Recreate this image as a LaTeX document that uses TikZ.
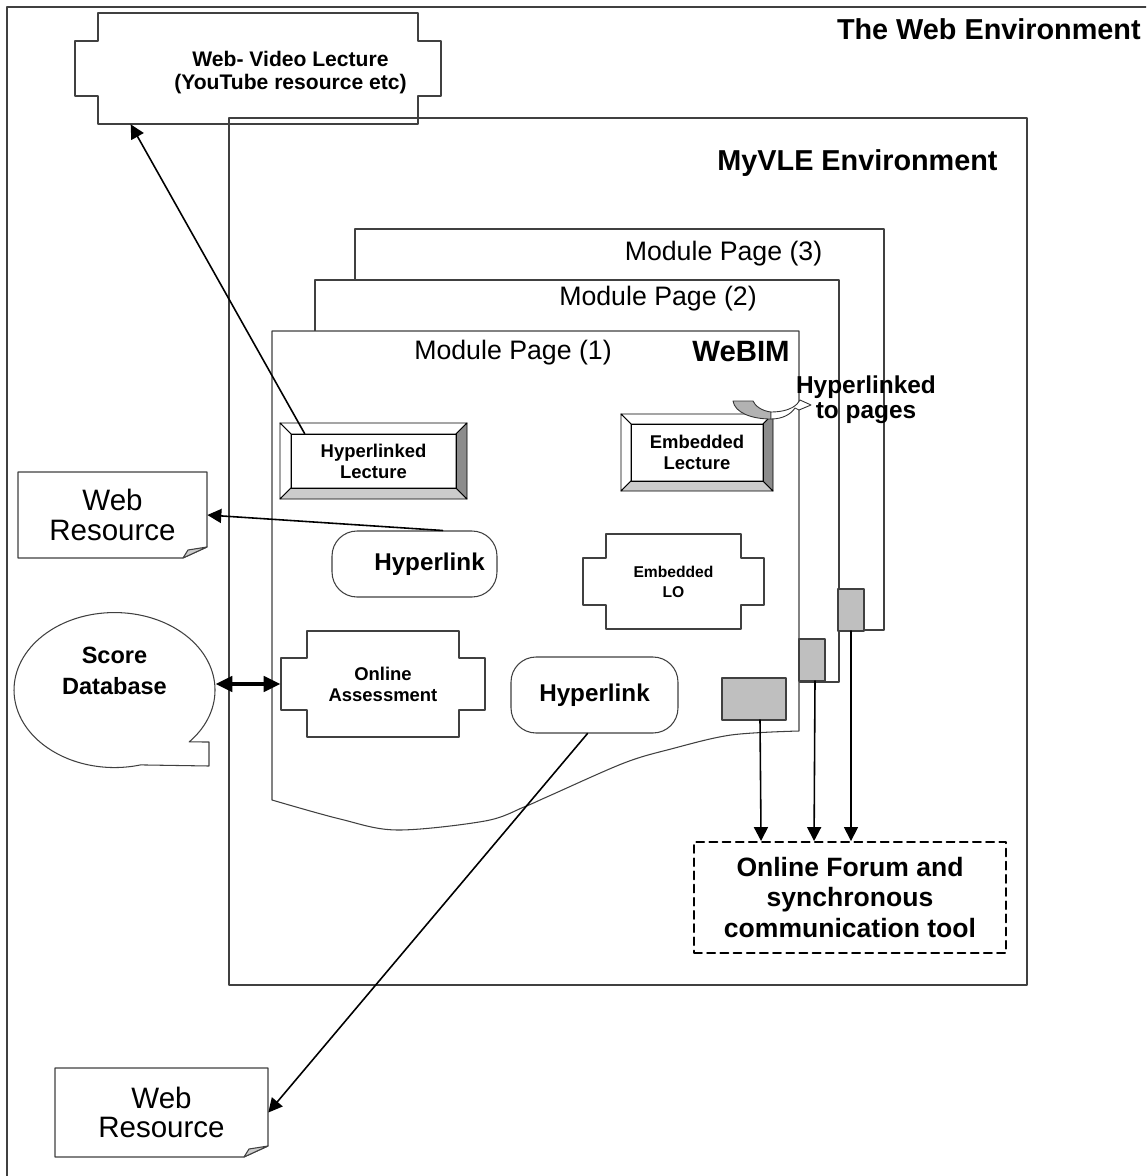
\documentclass[tikz,border=0pt]{standalone}
\usepackage{fontspec}
\setmainfont{Liberation Sans}
\usetikzlibrary{arrows.meta}
\usetikzlibrary{calc}

\newcommand\txtsize[2]{\fontsize{#1}{#2}\selectfont}
% raised button: x1 y1 x2 y2 (px), bevel depth
\newcommand\bevelbox[5]{%
  \filldraw[fill=white, draw=black, line width=0.5pt]
    (#1,#2) -- (#3,#2) -- (#3-#5,#2+#5) -- (#1+#5,#2+#5) -- cycle;
  \filldraw[fill=white, draw=black, line width=0.5pt]
    (#1,#2) -- (#1+#5,#2+#5) -- (#1+#5,#4-#5) -- (#1,#4) -- cycle;
  \filldraw[fill=black!20, draw=black, line width=0.5pt]
    (#1,#4) -- (#1+#5,#4-#5) -- (#3-#5,#4-#5) -- (#3,#4) -- cycle;
  \filldraw[fill=black!45, draw=black, line width=0.5pt]
    (#3,#2) -- (#3,#4) -- (#3-#5,#4-#5) -- (#3-#5,#2+#5) -- cycle;
  \draw[black, line width=0.5pt] (#1+#5,#2+#5) rectangle (#3-#5,#4-#5);}
% box with side wings: body x1 y1 x2 y2, wing out, wing inset
\newcommand\notchbox[6]{%
  \draw[envline, fill=white] (#1,#2) -- (#3,#2) -- (#3,#2+#6) -- (#3+#5,#2+#6)
    -- (#3+#5,#4-#6) -- (#3,#4-#6) -- (#3,#4) -- (#1,#4) -- (#1,#4-#6)
    -- (#1-#5,#4-#6) -- (#1-#5,#2+#6) -- (#1,#2+#6) -- cycle;}
% sheet with turned-up corner
\newcommand\notepaper[4]{%
  \draw[envline, fill=white] (#1,#2) -- (#3,#2) -- (#3,#4-11) -- (#3-24,#4)
    -- (#1,#4) -- cycle;
  \filldraw[envline, fill=black!20] (#3,#4-11) -- (#3-24,#4) -- (#3-19,#4-8) -- cycle;}

\tikzset{
  envline/.style={draw=black!75, line width=0.6pt},
  pagebox/.style={envline, fill=white},
  titletext/.style={font=\bfseries\txtsize{16.4}{19.7}, inner sep=0pt},
  pagetext/.style={font=\txtsize{15.2}{18}, inner sep=0pt},
  btntext/.style={font=\bfseries\txtsize{10.5}{12}, align=center, inner sep=0pt},
  notetext/.style={font=\txtsize{16.8}{16.6}, align=center, inner sep=0pt},
  linkbox/.style={envline, fill=white, rounded corners=0.5cm, inner sep=0pt,
    font=\bfseries\txtsize{13.8}{16}},
  grayport/.style={draw=black!75, fill=black!25, line width=0.6pt, inner sep=0pt,
    outer sep=0pt},
  forumbox/.style={draw=black, line width=1.1pt, dash pattern=on 4.5pt off 3pt,
    minimum width=6.24cm, minimum height=2.22cm, align=center, inner sep=0pt,
    font=\bfseries\txtsize{15.1}{17.4}},
  linkarrow/.style={line width=0.9pt, -{Triangle[length=0.28cm, width=0.28cm]}},
  dblarrow/.style={line width=2.8pt,
    {Triangle[length=0.34cm, width=0.3cm]}-{Triangle[length=0.34cm, width=0.3cm]}}
}

\begin{document}
\begin{tikzpicture}[x=0.02cm, y=-0.02cm, line cap=round, line join=round]
  \useasboundingbox (0,0) rectangle (1146,1176);
  \clip (0,0) rectangle (1146,1176);

  % the web environment
  \draw[envline] (7,7) rectangle (1160,1190);
  \node[titletext, anchor=east] (webenv) at (1141,29) {The Web Environment};

  % video lecture out on the web
  \notchbox{98}{13}{418}{124}{23}{28}
  \node[font=\bfseries\txtsize{12}{13.2}, align=center, inner sep=0pt,
        minimum width=6.4cm, minimum height=2.22cm] (vid) at (258,72.5)
        {\hspace*{1.3cm}Web- Video Lecture\\\hspace*{1.3cm}(YouTube resource etc)};

  % MyVLE
  \draw[envline] (229,118) rectangle (1027,985);
  \node[titletext] (myvle) at (857.5,163) {MyVLE Environment};

  % module pages, back to front
  \draw[pagebox] (355,229) rectangle (884,630);
  \node[pagetext] (mp3) at (723.5,254) {Module Page (3)};
  \draw[pagebox] (315,280) rectangle (839,682);
  \node[pagetext] (mp2) at (658,299) {Module Page (2)};
  \draw[pagebox] (799,731) -- (799,331) -- (272,331) -- (272,800)
    -- plot[smooth, tension=0.55] coordinates {(272,800) (340,819) (397,830)
       (485,821) (524,807) (549,796) (624,763) (671,749) (731,735) (799,731)}
    -- cycle;
  \node[pagetext] (mp1) at (513,353) {Module Page (1)};
  \node[font=\bfseries\txtsize{16.7}{20}, inner sep=0pt] (webim) at (741,352) {WeBIM};

  % lectures
  \bevelbox{280}{423}{467}{499}{11}
  \node[btntext, minimum width=3.3cm, minimum height=1.08cm] (hlect)
    at (373.5,461) {Hyperlinked\\Lecture};
  \bevelbox{621}{414}{773}{491}{10}
  \node[btntext, minimum width=2.64cm, minimum height=1.14cm] (elect)
    at (697,452.5) {Embedded\\Lecture};

  % curved arrow to the other pages
  \filldraw[fill=black!30, draw=black!80, line width=0.5pt] (733,401)
    .. controls (735,413) and (752,419) .. (771,419) -- (771,412)
    .. controls (762,411) and (755,406) .. (753,401) -- cycle;
  \filldraw[fill=white, draw=black!80, line width=0.5pt] (771,419)
    .. controls (783,419) and (791,414) .. (795,408) -- (799,410) -- (811,405)
    -- (800,400) -- (797,404) .. controls (792,409) and (783,412) .. (771,412)
    -- cycle;
  \node[font=\bfseries\txtsize{13.9}{14.2}, align=center, inner sep=0pt] (hlpages)
    at (866,400) {Hyperlinked\\to pages};

  % links and embedded objects
  \node[linkbox, minimum width=3.3cm, minimum height=1.32cm] (hyp1) at (414.5,564)
    {\hspace*{0.6cm}Hyperlink};
  \notchbox{606}{534}{741}{629}{23}{24}
  \node[font=\bfseries\txtsize{8.9}{11.4}, align=center, inner sep=0pt] (elo)
    at (673.5,582) {Embedded\\LO};
  \notchbox{307}{631}{459}{737}{26}{27}
  \node[btntext, minimum width=4.08cm, minimum height=2.12cm] (oa) at (383,684)
    {Online\\Assessment};
  \node[linkbox, minimum width=3.34cm, minimum height=1.52cm] (hyp2) at (594.5,695)
    {Hyperlink};

  % forum ports
  \node[grayport, minimum width=1.28cm, minimum height=0.84cm] (g1) at (754,699) {};
  \node[grayport, minimum width=0.52cm, minimum height=0.84cm] (g2) at (812,660) {};
  \node[grayport, minimum width=0.52cm, minimum height=0.84cm] (g3) at (851,610) {};
  \node[forumbox] (forum) at (850,897.5)
    {Online Forum and\\synchronous\\communication tool};
  \draw[linkarrow] ($(g1.south)+(6,0)$) -- ($(forum.north west)+(68,0)$);
  \draw[linkarrow] ($(g2.south)+(3,0)$) -- ($(forum.north west)+(121,0)$);
  \draw[linkarrow] (g3.south) -- (g3.south |- forum.north);

  % web resources
  \notepaper{18}{472}{207}{558}
  \node[notetext, minimum width=3.78cm, minimum height=1.72cm] (wr1)
    at (112.5,515) {Web\\Resource};
  \notepaper{55}{1068}{268}{1157}
  \node[notetext, minimum width=4.26cm, minimum height=1.78cm] (wr2)
    at (161.5,1112.5) {Web\\Resource};

  % score database
  \draw[envline] (189.2,741.9) arc[start angle=42, end angle=-285,
    x radius=100.5, y radius=77.5] -- (209,766) -- (209,742) -- cycle;
  \node[font=\bfseries\txtsize{13.4}{17.6}, align=center, inner sep=0pt,
        minimum width=4.02cm] (sdb) at (114.5,671) {Score\\Database};

  % connectors
  \draw[linkarrow] ($(hlect.north west)+(14,0)$) -- ($(vid.south west)+(33,-4)$);
  \draw[linkarrow] ($(hyp1.north)+(28,0)$) -- (wr1.east);
  \draw[dblarrow] (oa.west -| sdb.east) -- (oa.west);
  \draw[linkarrow] ($(hyp2.south)+(-7,0)$) -- (wr2.east);
\end{tikzpicture}
\end{document}
